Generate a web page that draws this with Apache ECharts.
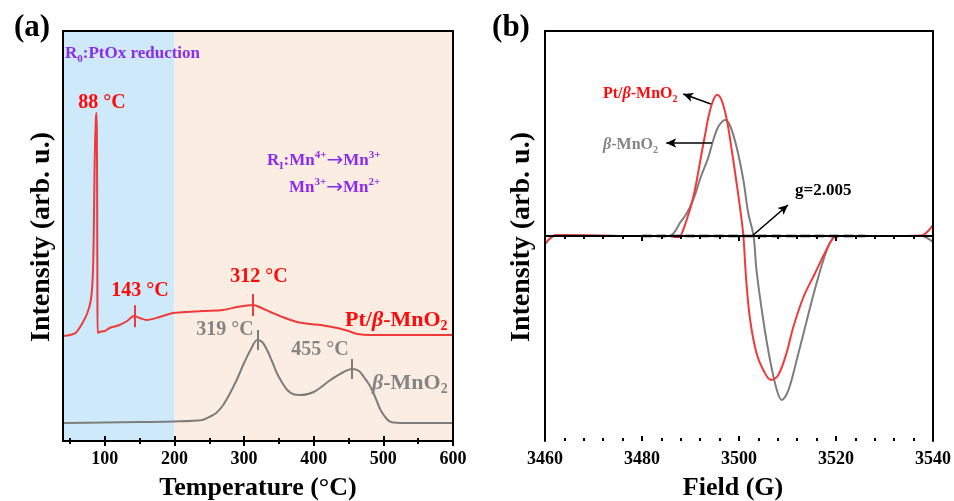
<!DOCTYPE html>
<html><head><meta charset="utf-8">
<script src="https://cdn.jsdelivr.net/npm/echarts@6/dist/echarts.min.js"></script>
<style>html,body{margin:0;padding:0;background:#fff}#c{width:954px;height:501px}</style>
</head><body><div id="c"></div>
<script>
// ---------------- DATA ----------------
// Panel (a): H2-TPR, temperature (°C) vs intensity (arb. u.)
const tempRange = [40, 600];
const majorTicksA = [100, 200, 300, 400, 500, 600];
const minorTicksA = [50, 150, 250, 350, 450, 550];
const regionEdges = [40, 200, 600];

const redT = [40, 50, 58, 68, 75, 80, 82.7, 84, 85.5, 87, 88, 88.6, 89, 89.4, 89.8, 92, 100, 107, 121, 132, 142, 150, 160, 179, 198, 215, 241, 270, 290, 313, 325, 338, 355, 376, 395, 410, 434, 450, 463, 480, 520, 600];
const redI = [105, 106, 108, 118, 128, 141, 164, 200, 280, 320, 328, 310, 250, 150, 108, 109, 110, 113, 116, 120, 125, 123, 121, 124, 128, 129, 130, 131, 134, 136, 133, 129, 124, 119, 117, 116, 113, 110, 107, 106, 106, 106];

const grayT = [40, 100, 150, 200, 240, 250, 260, 270, 280, 290, 300, 310, 319, 326, 333, 340, 347, 355, 362, 370, 381, 400, 424, 443, 455, 465, 472, 480, 487, 496, 505, 511, 530, 600];
const grayI = [18, 18.5, 19, 19.5, 21, 24, 28, 36, 48, 62, 78, 92, 101, 99, 91, 80, 68, 58, 51, 47, 46, 49, 61, 69, 72, 70, 64, 56, 46, 31, 22, 19, 18, 18];

const spikePeakRed = 88;
const peaksRed = [143, 312];
const peaksGray = [319, 455];

// Panel (b): EPR, field (G) vs intensity (arb. u.)
const fieldRange = [3460, 3540];
const redG = [3460, 3462.4, 3470, 3480, 3486, 3487, 3487.7, 3488.4, 3489.2, 3490.1, 3490.9, 3491.6, 3492.3, 3493, 3493.7, 3494.7, 3495.5, 3496.4, 3497.5, 3498.5, 3499.5, 3500.3, 3500.9, 3501.5, 3502.3, 3503.6, 3505, 3506.6, 3508.1, 3509.8, 3511.2, 3513.3, 3515.7, 3517.7, 3519.4, 3520.4, 3530, 3537.5, 3540];
const redE = [-8, 1, 0.5, 0, 0, -1, -1, 5, 16, 30, 46, 64, 83, 101, 119, 136, 141, 136, 116, 86, 53, 25, 0, -45, -84, -117, -134, -144, -139, -117, -91, -61, -37, -17, -2, 0, 0, 0.5, 11];

const grayG = [3460, 3462.4, 3470, 3480, 3485, 3486.1, 3487, 3487.8, 3489, 3489.9, 3491, 3491.9, 3493, 3493.7, 3494.7, 3495.7, 3497.1, 3498.1, 3499.5, 3500.9, 3501.9, 3503, 3503.6, 3505, 3506.4, 3507.8, 3508.8, 3510.2, 3511.9, 3514, 3516, 3518.1, 3519.4, 3520.4, 3530, 3537.5, 3540];
const grayE = [-8, 1, 0.5, 0, 0, 1, 6, 13, 21, 29, 42, 56, 70, 79, 96, 109, 116, 111, 89, 56, 23, 0, -34, -84, -124, -154, -164, -154, -124, -84, -47, -14, -2, 0, 0, 0, -6];

const gLineG = [3480, 3526];   // extent of the dashed g = 2.005 baseline
// arrows: [fromG, fromI, toG, toI]
const arrowsB = [
  [3494.2, 132, 3488.5, 142],
  [3494.4, 93, 3485.0, 93],
  [3502.7, 0, 3510.1, 31]
];

// ---------------- STYLE ----------------
const FONT = "'Liberation Serif','Times New Roman',serif";
const RED_LINE = '#f03a3a', RED_TXT = '#ff0a0a';
const GRAY_LINE = '#7d7d7d', GRAY_TXT = '#858585';
const PURPLE = '#8a2cf0';
const BAND_COLORS = ['#cde9fa', '#fcede2'];
const GA = {left: 63, top: 31, width: 390, height: 410};
const GB = {left: 545, top: 31, width: 388, height: 410};

const zip = (a, b) => a.map((v, i) => [v, b[i]]);
function interp(xs, ys, x) {
  for (let i = 0; i < xs.length - 1; i++) {
    if (x >= xs[i] && x <= xs[i + 1]) {
      const t = (x - xs[i]) / (xs[i + 1] - xs[i]);
      return ys[i] + t * (ys[i + 1] - ys[i]);
    }
  }
  return ys[ys.length - 1];
}
const AX = {color: '#000', width: 2};
function xA(grid, pos, range, extra) {
  return Object.assign({
    type: 'value', gridIndex: grid, position: pos, min: range[0], max: range[1], z: 10,
    axisLine: {show: false}, axisTick: {show: false}, axisLabel: {show: false},
    splitLine: {show: false}, minorTick: {show: false}
  }, extra);
}
function yA(grid, pos, range, extra) {
  return Object.assign({
    type: 'value', gridIndex: grid, position: pos, min: range[0], max: range[1], z: 10,
    axisLine: {show: false}, axisTick: {show: false}, axisLabel: {show: false},
    splitLine: {show: false}
  }, extra);
}
const labelStyle = {show: true, color: '#000', fontFamily: FONT, fontWeight: 'bold', fontSize: 18, margin: 9,
  formatter: v => String(v)};

const xAxes = [
  xA(0, 'bottom', tempRange, {axisLine: {show: true, lineStyle: AX},
    axisTick: {show: true, inside: false, length: 5, lineStyle: AX, customValues: majorTicksA},
    axisLabel: Object.assign({customValues: majorTicksA}, labelStyle)}),
  xA(1, 'bottom', fieldRange, {interval: 20, axisLine: {show: true, lineStyle: AX},
    axisTick: {show: true, inside: false, length: 5, lineStyle: AX},
    minorTick: {show: true, splitNumber: 5, length: 3, lineStyle: AX},
    axisLabel: labelStyle}),
  xA(2, 'bottom', tempRange, {axisTick: {show: true, inside: true, length: 5, lineStyle: AX, customValues: majorTicksA}}),
  xA(2, 'top', tempRange, {axisLine: {show: true, lineStyle: AX}}),
  xA(3, 'bottom', fieldRange, {interval: 20, axisTick: {show: true, inside: true, length: 5, lineStyle: AX},
    minorTick: {show: true, splitNumber: 5, length: 3, lineStyle: AX}}),
  xA(3, 'top', fieldRange, {axisLine: {show: true, lineStyle: AX}}),
  xA(4, 'bottom', tempRange, {axisTick: {show: true, inside: false, length: 3, lineStyle: AX, customValues: minorTicksA}}),
  xA(5, 'bottom', tempRange, {axisTick: {show: true, inside: true, length: 3, lineStyle: AX, customValues: minorTicksA}})
];
const yAxes = [
  yA(0, 'left', [0, 410], {axisLine: {show: true, lineStyle: AX}}),
  yA(1, 'left', [-205, 205], {axisLine: {show: true, lineStyle: AX}}),
  yA(2, 'right', [0, 1], {axisLine: {show: true, lineStyle: AX}}),
  yA(3, 'right', [0, 1], {axisLine: {show: true, lineStyle: AX}}),
  yA(4, 'left', [0, 1]),
  yA(5, 'left', [0, 1])
];

function peakMarks(xs, ys, peaks, color, half) {
  return {
    silent: true, symbol: ['none', 'none'], animation: false,
    label: {show: false},
    lineStyle: {color, width: 2, type: 'solid'},
    data: peaks.map(p => {
      const v = interp(xs, ys, p);
      return [{coord: [p, v - half]}, {coord: [p, v + half]}];
    })
  };
}

const series = [
  {type: 'line', xAxisIndex: 0, yAxisIndex: 0, data: [], z: 1, silent: true,
   markArea: {silent: true, data: [
     [{xAxis: regionEdges[0], itemStyle: {color: BAND_COLORS[0]}}, {xAxis: regionEdges[1]}],
     [{xAxis: regionEdges[1], itemStyle: {color: BAND_COLORS[1]}}, {xAxis: regionEdges[2]}]
   ]}},
  {type: 'line', name: 'β-MnO2 TPR', xAxisIndex: 0, yAxisIndex: 0, z: 3, data: zip(grayT, grayI),
   showSymbol: false, smooth: 0.35, lineStyle: {color: GRAY_LINE, width: 2},
   markLine: peakMarks(grayT, grayI, peaksGray, GRAY_LINE, 10)},
  {type: 'line', name: 'Pt/β-MnO2 TPR', xAxisIndex: 0, yAxisIndex: 0, z: 4, data: zip(redT, redI),
   showSymbol: false, smooth: 0.3, lineStyle: {color: RED_LINE, width: 2},
   markLine: peakMarks(redT, redI, peaksRed, RED_LINE, 11)},
  {type: 'line', name: 'β-MnO2 EPR', xAxisIndex: 1, yAxisIndex: 1, z: 3, data: zip(grayG, grayE),
   showSymbol: false, smooth: 0.35, lineStyle: {color: GRAY_LINE, width: 2}},
  {type: 'line', name: 'Pt/β-MnO2 EPR', xAxisIndex: 1, yAxisIndex: 1, z: 4, data: zip(redG, redE),
   showSymbol: false, smooth: 0.35, lineStyle: {color: RED_LINE, width: 2}},
  {type: 'line', name: 'g-line', xAxisIndex: 1, yAxisIndex: 1, z: 6, data: gLineG.map(g => [g, 0]),
   showSymbol: false, symbol: 'none', lineStyle: {color: '#000', width: 2.4, type: 'dashed', dashOffset: 0, opacity: 1}},
  {type: 'line', name: 'arrows', xAxisIndex: 1, yAxisIndex: 1, z: 6, data: [],
   markLine: {silent: true, animation: false, symbol: ['none', 'arrow'], symbolSize: [7, 10],
     label: {show: false}, lineStyle: {color: '#000', width: 1.6, type: 'solid'},
     data: arrowsB.map(a => [{coord: [a[0], a[1]]}, {coord: [a[2], a[3]]}])}},
  {type: 'line', xAxisIndex: 2, yAxisIndex: 2, data: []},
  {type: 'line', xAxisIndex: 4, yAxisIndex: 3, data: []},
  {type: 'line', xAxisIndex: 6, yAxisIndex: 4, data: []},
  {type: 'line', xAxisIndex: 7, yAxisIndex: 5, data: []}
];

function txt(x, y, text, o) {
  return {type: 'text', x, y, z: 100, silent: true,
    style: Object.assign({text, fill: '#000', font: `bold 18px ${FONT}`, align: 'left', verticalAlign: 'middle'}, o || {})};
}
function richSet(size, color, lh) {
  const base = {fontFamily: FONT, fontWeight: 'bold', fill: color};
  return {
    n: Object.assign({fontSize: size, lineHeight: lh}, base),
    i: Object.assign({fontSize: size, lineHeight: lh, fontStyle: 'italic'}, base),
    s: Object.assign({fontSize: Math.round(size * 0.62), lineHeight: Math.round(lh * 0.45), verticalAlign: 'bottom'}, base),
    u: Object.assign({fontSize: Math.round(size * 0.62), lineHeight: Math.round(lh * 0.45), verticalAlign: 'top'}, base),
    a: {fontFamily: "'DejaVu Sans'", fontWeight: 'normal', fontSize: Math.round(size * 1.15), lineHeight: lh, fill: color}
  };
}
const deg = v => `${v} °C`;

const graphic = [
  txt(32, 28, '(a)', {font: `bold 31px ${FONT}`, align: 'center'}),
  txt(511, 28, '(b)', {font: `bold 31px ${FONT}`, align: 'center'}),
  txt(258, 488, 'Temperature (°C)', {font: `bold 26px ${FONT}`, align: 'center'}),
  txt(733, 488, 'Field (G)', {font: `bold 26px ${FONT}`, align: 'center'}),
  {type: 'text', x: 42, y: 237, rotation: Math.PI / 2, z: 100, silent: true,
   style: {text: 'Intensity (arb. u.)', fill: '#000', font: `bold 28px ${FONT}`, align: 'center', verticalAlign: 'middle'}},
  {type: 'text', x: 522, y: 237, rotation: Math.PI / 2, z: 100, silent: true,
   style: {text: 'Intensity (arb. u.)', fill: '#000', font: `bold 28px ${FONT}`, align: 'center', verticalAlign: 'middle'}},
  // peak labels (a)
  txt(102, 103, deg(spikePeakRed), {fill: RED_TXT, font: `bold 20px ${FONT}`, align: 'center'}),
  txt(140, 291, deg(peaksRed[0]), {fill: RED_TXT, font: `bold 20px ${FONT}`, align: 'center'}),
  txt(259, 277, deg(peaksRed[1]), {fill: RED_TXT, font: `bold 20px ${FONT}`, align: 'center'}),
  txt(225, 330, deg(peaksGray[0]), {fill: GRAY_TXT, font: `bold 20px ${FONT}`, align: 'center'}),
  txt(320, 350, deg(peaksGray[1]), {fill: GRAY_TXT, font: `bold 20px ${FONT}`, align: 'center'}),
  // series names (a)
  txt(345, 320, '{n|Pt/}{i|β}{n|-MnO}{s|2}', {rich: richSet(22, RED_TXT, 26)}),
  txt(372, 383, '{i|β}{n|-MnO}{s|2}', {rich: richSet(22, GRAY_TXT, 26)}),
  // region labels (a)
  txt(65, 54, '{n|R}{s|0}{n|:PtOx reduction}', {rich: richSet(17, PURPLE, 22)}),
  txt(267, 161, '{n|R}{s|I}{n|:Mn}{u|4+}{a|→}{n|Mn}{u|3+}', {rich: richSet(17, PURPLE, 22)}),
  txt(289, 188, '{n|Mn}{u|3+}{a|→}{n|Mn}{u|2+}', {rich: richSet(17, PURPLE, 22)}),
  // labels (b)
  txt(603, 94, '{n|Pt/}{i|β}{n|-MnO}{s|2}', {rich: richSet(16, RED_TXT, 20)}),
  txt(603, 145, '{i|β}{n|-MnO}{s|2}', {rich: richSet(16, GRAY_TXT, 20)}),
  txt(795, 191, 'g=2.005', {font: `bold 17px ${FONT}`})
];

const chart = echarts.init(document.getElementById('c'));
chart.setOption({
  animation: false,
  backgroundColor: '#fff',
  grid: [GA, GB, GA, GB, GA, GA].map(g => Object.assign({show: false, containLabel: false}, g)),
  xAxis: xAxes,
  yAxis: yAxes,
  series,
  graphic
});
</script></body></html>
